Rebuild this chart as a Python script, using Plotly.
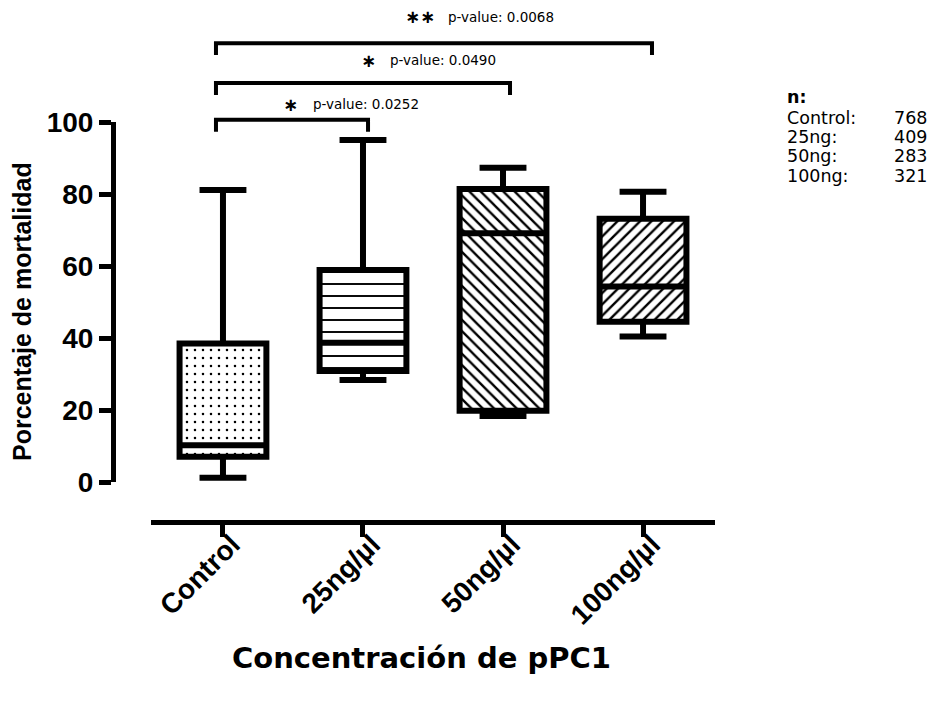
import plotly.graph_objects as go

# ---------------- data ----------------
categories = ["Control", "25ng/µl", "50ng/µl", "100ng/µl"]
lower_whisker = [1.2, 28.3, 18.3, 40.4]
q1_values = [7.0, 30.8, 19.8, 44.5]
median_values = [10.2, 38.7, 69.1, 54.3]
q3_values = [38.5, 58.9, 81.4, 73.1]
upper_whisker = [81.1, 95.0, 87.3, 80.6]
y_tick_values = [0, 20, 40, 60, 80, 100]
n_labels = ["Control:", "25ng:", "50ng:", "100ng:"]
n_values = [768, 409, 283, 321]
comparison_stars = ["∗", "∗", "∗∗"]
comparison_pvalues = ["0.0252", "0.0490", "0.0068"]
comparison_targets = [1, 2, 3]

# ---------------- styles / layout constants ----------------
W, H = 932, 702
patterns = [".", "-", "\\", "/"]
pattern_sizes = [8, 12, 8, 8]
pattern_solid = [0.08, 0.16, 0.3, 0.3]
BOX_W = 0.62
XD = [151 / W, 715 / W]
XR = [-0.514, 3.514]
YD = [1 - 482 / H, 1 - 122 / H]
YR = [0, 100]
TICK_FONT = "Liberation Sans, Arial, sans-serif"
TXT_FONT = "DejaVu Sans, Verdana, sans-serif"


def xp(v):
    return XD[0] + (v - XR[0]) / (XR[1] - XR[0]) * (XD[1] - XD[0])


def yp(v):
    return YD[0] + (v - YR[0]) / (YR[1] - YR[0]) * (YD[1] - YD[0])


def px_x(p):
    return p / W


def px_y(p):
    return 1 - p / H


fig = go.Figure()

# patterned box bodies
fig.add_trace(go.Bar(
    x=categories,
    y=[b - a for a, b in zip(q1_values, q3_values)],
    base=q1_values,
    width=BOX_W,
    marker=dict(
        color="white",
        line=dict(width=0),
        pattern=dict(shape=patterns, size=pattern_sizes, solidity=pattern_solid,
                     fgcolor="black", bgcolor="white", fgopacity=1, fillmode="overlay"),
    ),
    hoverinfo="skip",
))

# box outlines, medians, whiskers
fig.add_trace(go.Box(
    x=categories,
    q1=q1_values,
    median=median_values,
    q3=q3_values,
    lowerfence=lower_whisker,
    upperfence=upper_whisker,
    width=BOX_W,
    whiskerwidth=0.54,
    fillcolor="rgba(0,0,0,0)",
    line=dict(color="black", width=6),
    boxpoints=False,
    orientation="v",
))

shapes = []
annotations = []

# significance brackets
bracket_left = -0.05
bracket_right = [1.036, 2.05, 3.064]
bracket_top = [100.6, 110.8, 121.9]
LEG = 3.3
star_px = [290, 368, 420]
pval_px = [311, 388, 446]
text_py = [104, 60, 17]
for i, t in enumerate(comparison_targets):
    x0, x1 = xp(bracket_left), xp(bracket_right[i])
    yt, yl = yp(bracket_top[i]), yp(bracket_top[i] - LEG)
    shapes.append(dict(type="path", xref="paper", yref="paper",
                       path=f"M{x0},{yl} L{x0},{yt} L{x1},{yt} L{x1},{yl}",
                       line=dict(color="black", width=4)))
    annotations.append(dict(x=px_x(star_px[i]), y=px_y(text_py[i]), xref="paper", yref="paper",
                            text=comparison_stars[i], showarrow=False, xanchor="center", yanchor="middle",
                            font=dict(family=TXT_FONT, size=18, color="black", weight="bold")))
    annotations.append(dict(x=px_x(pval_px[i]), y=px_y(text_py[i]), xref="paper", yref="paper",
                            text=f"p-value: {comparison_pvalues[i]}", showarrow=False,
                            xanchor="left", yanchor="middle",
                            font=dict(family=TXT_FONT, size=13.5, color="black")))

# axis titles
annotations.append(dict(x=px_x(22), y=px_y(312), xref="paper", yref="paper",
                        text="Porcentaje de mortalidad", textangle=-90, showarrow=False,
                        xanchor="center", yanchor="middle",
                        font=dict(family=TICK_FONT, size=25, color="black", weight="bold")))
annotations.append(dict(x=px_x(421), y=px_y(658), xref="paper", yref="paper",
                        text="Concentración de pPC1", showarrow=False,
                        xanchor="center", yanchor="middle",
                        font=dict(family=TXT_FONT, size=29, color="black", weight="bold")))

# n: block
NFS = 17.5
annotations.append(dict(x=px_x(786), y=px_y(97), xref="paper", yref="paper", text="n:",
                        showarrow=False, xanchor="left", yanchor="middle", borderpad=0,
                        font=dict(family=TXT_FONT, size=NFS, color="black", weight="bold")))
for i, (lab, val) in enumerate(zip(n_labels, n_values)):
    yy = px_y(117.5 + 19.5 * i)
    annotations.append(dict(x=px_x(786), y=yy, xref="paper", yref="paper", text=lab,
                            showarrow=False, xanchor="left", yanchor="middle", borderpad=0,
                            font=dict(family=TXT_FONT, size=NFS, color="black")))
    annotations.append(dict(x=px_x(928), y=yy, xref="paper", yref="paper", text=str(val),
                            showarrow=False, xanchor="right", yanchor="middle", borderpad=0,
                            font=dict(family=TXT_FONT, size=NFS, color="black")))

fig.update_layout(
    width=W, height=H,
    margin=dict(l=0, r=0, t=0, b=0, autoexpand=False),
    paper_bgcolor="white", plot_bgcolor="white",
    showlegend=False, barmode="overlay",
    shapes=shapes, annotations=annotations,
    xaxis=dict(domain=XD, range=XR, type="category", anchor="free", position=px_y(522),
               automargin=False,
               showline=True, linecolor="black", linewidth=5,
               ticks="outside", ticklen=12, tickwidth=5, tickcolor="black",
               tickangle=-45, showgrid=False, zeroline=False,
               ticklabelstandoff=-20, ticklabelshift=9,
               tickfont=dict(family=TICK_FONT, size=28, color="black", weight="bold")),
    yaxis=dict(domain=YD, range=YR, anchor="free", position=px_x(113),
               automargin=False,
               showline=True, linecolor="black", linewidth=5,
               ticks="outside", ticklen=12, tickwidth=5, tickcolor="black",
               tickvals=y_tick_values, showgrid=False, zeroline=False,
               tickfont=dict(family=TICK_FONT, size=28, color="black", weight="bold")),
)

fig.write_html("out.html", config={"displayModeBar": False},
               post_script="document.body.style.margin='0';")
